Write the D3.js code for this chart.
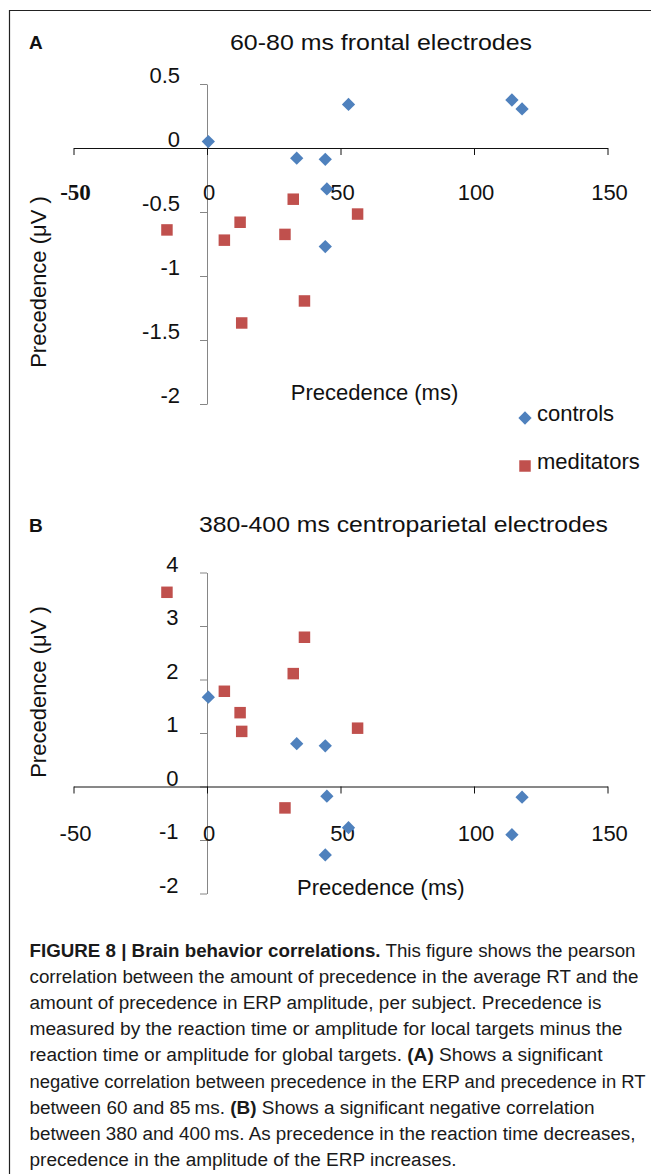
<!DOCTYPE html>
<html><head><meta charset="utf-8">
<script src="https://cdn.jsdelivr.net/npm/d3@7"></script>
<style>html,body{margin:0;padding:0;background:#fff;} svg{display:block;}</style>
</head><body>
<svg id="fig" width="651" height="1174"></svg>
<script>
// ---------- data ----------
const xTicks = [-50, 0, 50, 100, 150];
const xTickLabels = ["-50", "0", "50", "100", "150"];
const yTicksA = [0.5, 0, -0.5, -1, -1.5, -2];
const yTickLabelsA = ["0.5", "0", "-0.5", "-1", "-1.5", "-2"];
const yTicksB = [4, 3, 2, 1, 0, -1, -2];
const yTickLabelsB = ["4", "3", "2", "1", "0", "-1", "-2"];

// precedence in RT (ms), one value per subject
const controlsRT   = [0.5, 53, 114.2, 118, 33.6, 44.3, 44.9, 44.3];
const meditatorsRT = [-15, 6.5, 12.4, 29.2, 32.3, 56.4, 36.5, 13];
// precedence in ERP amplitude (µV), panel A (60-80 ms frontal)
const controlsA   = [0.05, 0.34, 0.375, 0.305, -0.08, -0.088, -0.32, -0.77];
const meditatorsA = [-0.64, -0.72, -0.58, -0.675, -0.40, -0.516, -1.195, -1.367];
// panel B (380-400 ms centroparietal)
const controlsB   = [1.67, -0.77, -0.90, -0.20, 0.80, 0.76, -0.18, -1.28];
const meditatorsB = [3.63, 1.78, 1.38, -0.40, 2.11, 1.09, 2.79, 1.03];

const seriesNames = ["controls", "meditators"];
const titleA = "60-80 ms frontal electrodes";
const titleB = "380-400 ms centroparietal electrodes";
const xTitle = "Precedence (ms)";
const yTitle = "Precedence (\u03BCV )";

const captionLines = [
  [["b", "FIGURE 8 | Brain behavior correlations."], ["n", " This figure shows the pearson"]],
  [["n", "correlation between the amount of precedence in the average RT and the"]],
  [["n", "amount of precedence in ERP amplitude, per subject. Precedence is"]],
  [["n", "measured by the reaction time or amplitude for local targets minus the"]],
  [["n", "reaction time or amplitude for global targets. "], ["b", "(A)"], ["n", " Shows a significant"]],
  [["n", "negative correlation between precedence in the ERP and precedence in RT"]],
  [["n", "between 60 and 85\u2009ms. "], ["b", "(B)"], ["n", " Shows a significant negative correlation"]],
  [["n", "between 380 and 400\u2009ms. As precedence in the reaction time decreases,"]],
  [["n", "precedence in the amplitude of the ERP increases."]]
];
const captionWidths = [606, 609, 572, 593, 573, 616, 565, 606, 427];

// ---------- drawing ----------
const W = 651, H = 1174;
const svg = d3.select("#fig");
const FONT = "'Liberation Sans', Arial, Helvetica, sans-serif";
const SERIF = "'Liberation Serif', 'Times New Roman', serif";
const BLUE = "#4F81BD", RED = "#C0504D", TXT = "#111";

svg.append("rect").attr("width", W).attr("height", H).attr("fill", "#fff");
svg.append("path").attr("d", `M9.5,${H} V10.5 H${W}`)
  .attr("fill", "none").attr("stroke", "#222").attr("stroke-width", 1.2);

const x = d3.scaleLinear().domain([-50, 150]).range([73.5, 607.5]);
const diamond = d3.symbol(d3.symbolSquare, 88)();
const square = d3.symbol(d3.symbolSquare, 132)();

function panel(o) {
  const g = svg.append("g");
  const y = d3.scaleLinear().domain(o.yDomain).range(o.yRange);
  g.append("text").attr("x", 29).attr("y", o.letterBase).text(o.letter)
    .attr("font-family", FONT).attr("font-weight", "bold").attr("font-size", 19).attr("fill", TXT);
  g.append("text").attr("x", o.titleX).attr("y", o.titleBase).attr("text-anchor", "middle")
    .attr("font-family", FONT).attr("font-size", 22).attr("fill", TXT)
    .attr("textLength", o.titleLen).attr("lengthAdjust", "spacingAndGlyphs").text(o.title);

  const y0 = y(0), xA = x(0);
  const ya = g.append("g").attr("transform", `translate(${xA},0)`)
    .call(d3.axisLeft(y).tickValues(o.yTicks).tickFormat((d, i) => o.yLabels[i]).tickSize(7).tickSizeOuter(0));
  ya.select(".domain").attr("stroke", "#868686");
  ya.selectAll(".tick line").attr("stroke", "#868686");
  ya.selectAll(".tick text").attr("x", o.yLabelX - xA).attr("dy", -1.5)
    .attr("font-size", 22).attr("font-family", FONT).attr("fill", TXT);

  const xa = g.append("g").attr("transform", `translate(0,${y0})`)
    .call(d3.axisBottom(x).tickValues(xTicks).tickFormat((d, i) => xTickLabels[i]).tickSize(7).tickSizeOuter(0));
  xa.select(".domain").attr("stroke", "#111");
  xa.selectAll(".tick line").attr("stroke", "#111");
  xa.selectAll(".tick text").attr("y", o.xLabelOff).attr("dy", 0).attr("x", 1.5)
    .attr("font-size", 22).attr("font-family", FONT).attr("fill", TXT);
  if (o.serifFirst) {
    xa.selectAll(".tick text").filter(d => d === -50)
      .attr("font-family", SERIF).attr("font-weight", "bold").attr("font-size", 23);
  }

  g.append("text").attr("x", o.xTitleX).attr("y", o.xTitleBase).attr("text-anchor", "middle")
    .attr("font-family", FONT).attr("font-size", 22).attr("fill", TXT).text(xTitle);
  g.append("text").attr("transform", `translate(46,${o.yTitleCy}) rotate(-90)`).attr("text-anchor", "middle")
    .attr("font-family", FONT).attr("font-size", 22).attr("fill", TXT).text(yTitle);

  g.selectAll("path.ctrl").data(controlsRT.map((v, i) => [v, o.ctrl[i]])).join("path")
    .attr("class", "ctrl").attr("d", diamond).attr("fill", BLUE)
    .attr("transform", d => `translate(${x(d[0])},${y(d[1])}) rotate(45)`);
  g.selectAll("path.med").data(meditatorsRT.map((v, i) => [v, o.med[i]])).join("path")
    .attr("class", "med").attr("d", square).attr("fill", RED)
    .attr("transform", d => `translate(${x(d[0])},${y(d[1])})`);
}

panel({
  letter: "A", letterBase: 48.5, title: titleA, titleX: 381, titleBase: 50, titleLen: 302,
  yDomain: [-2, 0.5], yRange: [404, 84], yTicks: yTicksA, yLabels: yTickLabelsA, yLabelX: 180,
  xLabelOff: 52, serifFirst: true, xTitleX: 374.5, xTitleBase: 400, yTitleCy: 282,
  ctrl: controlsA, med: meditatorsA
});
panel({
  letter: "B", letterBase: 532, title: titleB, titleX: 403.5, titleBase: 532, titleLen: 409,
  yDomain: [-2, 4], yRange: [893.5, 572.5], yTicks: yTicksB, yLabels: yTickLabelsB, yLabelX: 178.5,
  xLabelOff: 54.5, serifFirst: false, xTitleX: 380.8, xTitleBase: 895, yTitleCy: 692,
  ctrl: controlsB, med: meditatorsB
});

// legend (panel A)
const leg = svg.append("g");
const legY = [418, 466];
leg.append("path").attr("d", diamond).attr("fill", BLUE).attr("transform", `translate(525,${legY[0]}) rotate(45)`);
leg.append("path").attr("d", square).attr("fill", RED).attr("transform", `translate(525,${legY[1]})`);
seriesNames.forEach((n, i) => {
  leg.append("text").attr("x", 537).attr("y", [421, 469][i]).attr("font-family", FONT)
    .attr("font-size", 22).attr("fill", TXT).text(n);
});

// caption
const cap = svg.append("g");
captionLines.forEach((segs, i) => {
  const t = cap.append("text").attr("x", 29.5).attr("y", 956.5 + i * 26.2)
    .attr("font-family", FONT).attr("font-size", 18).attr("fill", "#1a1a1a")
    .attr("textLength", captionWidths[i]).attr("lengthAdjust", "spacingAndGlyphs");
  segs.forEach(s => {
    t.append("tspan").attr("font-weight", s[0] === "b" ? "bold" : "normal").text(s[1]);
  });
});
</script>
</body></html>
